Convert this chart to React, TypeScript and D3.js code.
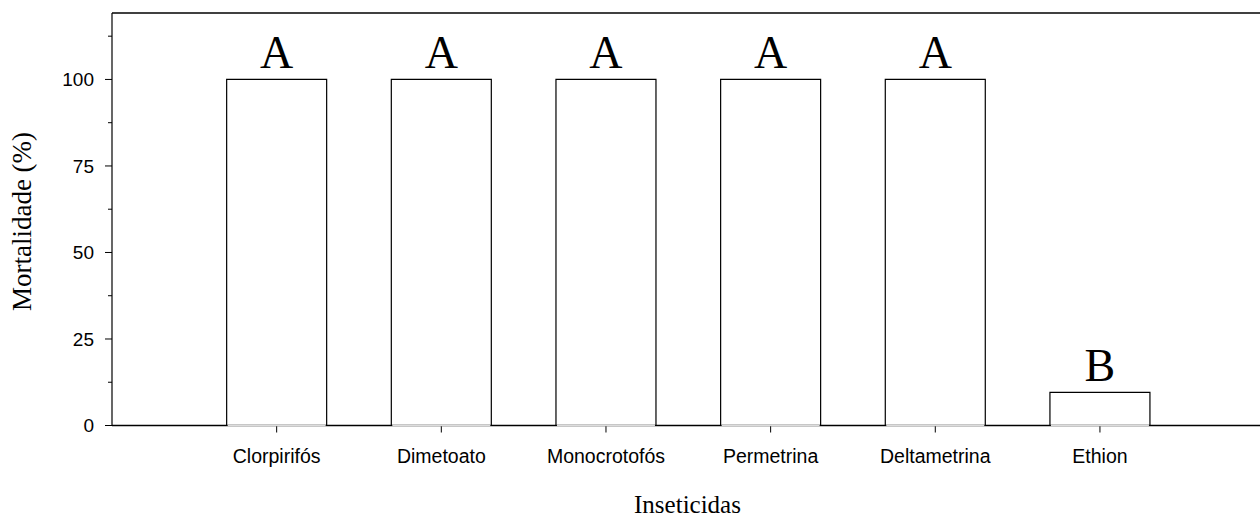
import React from "react";
import * as d3 from "d3";

const categories = ["Clorpirifós", "Dimetoato", "Monocrotofós", "Permetrina", "Deltametrina", "Ethion"];
const mortality = [100, 100, 100, 100, 100, 9.6];
const groupLetters = ["A", "A", "A", "A", "A", "B"];
const majorTicks = [0, 25, 50, 75, 100];
const minorTicks = [12.5, 37.5, 62.5, 87.5, 112.5];

export default function App() {
  const W = 1260, H = 517;
  const left = 112, top = 13, bottom = 425.5;
  const x = d3.scaleLinear().domain([0, 7]).range([left, 1264.6]);
  const y = d3.scaleLinear().domain([0, 119.2]).range([bottom, top]);
  const barW = 100;
  return (
    <svg width={W} height={H} style={{ position: "absolute", left: 0, top: 0, background: "#fff" }}>
      {categories.map((c, i) => {
        const cx = x(i + 1);
        const yt = y(mortality[i]);
        return (
          <g key={c}>
            <rect x={cx - barW / 2} y={yt} width={barW} height={bottom - yt} fill="#fff" stroke="none" />
            <path d={`M${cx - barW / 2},${bottom} V${yt} H${cx + barW / 2} V${bottom}`} fill="none" stroke="#000" strokeWidth={1.2} />
            <text x={cx} y={yt - 11} textAnchor="middle" fontFamily="Liberation Serif, Times New Roman, serif" fontSize={46}>{groupLetters[i]}</text>
            <line x1={cx} x2={cx} y1={bottom} y2={bottom + 7} stroke="#000" strokeWidth={1} />
            <text x={cx} y={463} textAnchor="middle" fontFamily="Liberation Sans, Arial, sans-serif" fontSize={19.5}>{c}</text>
          </g>
        );
      })}
      {/* bottom axis segments (not under bars) */}
      <line x1={left} x2={W} y1={bottom} y2={bottom} stroke="#000" strokeWidth={1.3} />
      {categories.map((c, i) => (
        <line key={"g" + c} x1={x(i + 1) - barW / 2 + 1} x2={x(i + 1) + barW / 2 - 1} y1={bottom} y2={bottom} stroke="#ddd" strokeWidth={1.4} />
      ))}
      <line x1={left} x2={left} y1={top} y2={bottom} stroke="#000" strokeWidth={1.2} />
      <line x1={left} x2={W} y1={top} y2={top} stroke="#000" strokeWidth={1.3} />
      {majorTicks.map((t) => (
        <g key={"t" + t}>
          <line x1={left - 7} x2={left} y1={y(t)} y2={y(t)} stroke="#000" strokeWidth={1} />
          <text x={94} y={y(t)} dy="0.35em" textAnchor="end" fontFamily="Liberation Sans, Arial, sans-serif" fontSize={19}>{t}</text>
        </g>
      ))}
      {minorTicks.map((t) => (
        <line key={"m" + t} x1={left - 4} x2={left} y1={y(t)} y2={y(t)} stroke="#000" strokeWidth={1} />
      ))}
      <text x={687.5} y={513} textAnchor="middle" fontFamily="Liberation Serif, Times New Roman, serif" fontSize={25}>Inseticidas</text>
      <text transform={`translate(31,221.5) rotate(-90)`} textAnchor="middle" fontFamily="Liberation Serif, Times New Roman, serif" fontSize={27}>Mortalidade (%)</text>
    </svg>
  );
}
